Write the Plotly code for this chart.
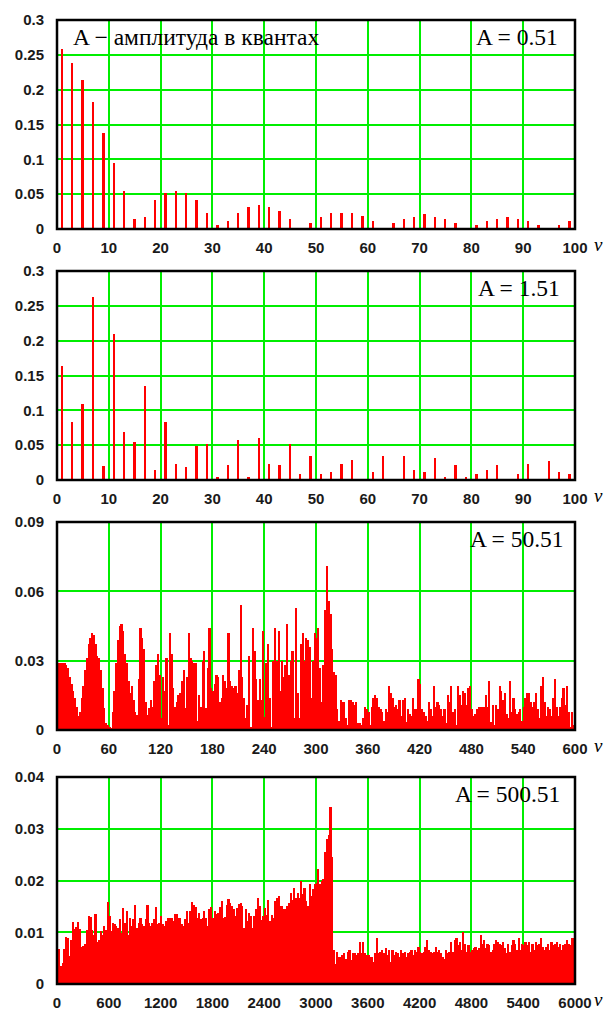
import plotly.graph_objects as go

# ---------------- data ----------------
nu_100 = list(range(1, 100, 2))          # odd harmonics 1..99
amp_051 = [0.259, 0.239, 0.214, 0.182, 0.138, 0.095, 0.055, 0.015, 0.017, 0.041,
           0.052, 0.055, 0.052, 0.041, 0.023, 0.006, 0.012, 0.023, 0.032, 0.035,
           0.032, 0.026, 0.014, 0.0, 0.009, 0.017, 0.023, 0.023, 0.023, 0.018,
           0.012, 0.0, 0.009, 0.015, 0.017, 0.021, 0.017, 0.014, 0.009, 0.0,
           0.006, 0.012, 0.014, 0.017, 0.014, 0.012, 0.006, 0.0, 0.006, 0.012]
amp_151 = [0.163, 0.083, 0.109, 0.263, 0.020, 0.210, 0.069, 0.055, 0.135, 0.015,
           0.083, 0.023, 0.018, 0.049, 0.052, 0.005, 0.021, 0.057, 0.005, 0.060,
           0.023, 0.021, 0.052, 0.008, 0.035, 0.008, 0.012, 0.023, 0.029, 0.0,
           0.012, 0.035, 0.0, 0.035, 0.015, 0.012, 0.032, 0.005, 0.021, 0.005,
           0.009, 0.015, 0.021, 0.0, 0.009, 0.023, 0.0, 0.027, 0.012, 0.009]

nu_600 = list(range(1, 600, 2))          # odd harmonics 1..599
amp_5051 = [
    0.029, 0.029, 0.029, 0.029, 0.029, 0.028, 0.027, 0.023, 0.020, 0.017,
    0.014, 0.010, 0.006, 0.008, 0.014, 0.019, 0.026, 0.031, 0.037, 0.040,
    0.042, 0.041, 0.037, 0.032, 0.031, 0.026, 0.018, 0.0095, 0.003, 0.002,
    0.0015, 0.001, 0.008, 0.017, 0.029, 0.039, 0.045, 0.046, 0.043, 0.033,
    0.029, 0.021, 0.016, 0.019, 0.013, 0.008, 0.0066, 0.022, 0.044, 0.040,
    0.035, 0.012, 0.0066, 0.0095, 0.013, 0.010, 0.021, 0.028, 0.033, 0.024,
    0.005, 0.023, 0.017, 0.031, 0.002, 0.042, 0.033, 0.018, 0.010, 0.012,
    0.015, 0.016, 0.021, 0.026, 0.0095, 0.023, 0.042, 0.031, 0.030, 0.029,
    0.029, 0.004, 0.015, 0.010, 0.030, 0.034, 0.0095, 0.027, 0.044, 0.018,
    0.017, 0.020, 0.024, 0.023, 0.012, 0.014, 0.024, 0.021, 0.018, 0.042,
    0.021, 0.019, 0.018, 0.019, 0.016, 0.026, 0.054, 0.023, 0.014, 0.005,
    0.011, 0.032, 0.0015, 0.044, 0.034, 0.022, 0.013, 0.022, 0.013, 0.043,
    0.0057, 0.029, 0.037, 0.014, 0.0015, 0.030, 0.044, 0.030, 0.043, 0.017,
    0.030, 0.023, 0.028, 0.046, 0.024, 0.030, 0.034, 0.005, 0.053, 0.016,
    0.005, 0.037, 0.042, 0.030, 0.040, 0.039, 0.036, 0.014, 0.030, 0.042,
    0.040, 0.044, 0.027, 0.012, 0.028, 0.052, 0.071, 0.056, 0.050, 0.035,
    0.025, 0.024, 0.009, 0.004, 0.013, 0.012, 0.012, 0.005, 0.002, 0.013,
    0.013, 0.012, 0.011, 0.012, 0.003, 0.003, 0.002, 0.005, 0.010, 0.009,
    0.008, 0.002, 0.010, 0.014, 0.015, 0.014, 0.010, 0.009, 0.008, 0.004,
    0.009, 0.008, 0.019, 0.016, 0.014, 0.010, 0.011, 0.009, 0.013, 0.006,
    0.013, 0.014, 0.0036, 0.009, 0.007, 0.006, 0.014, 0.009, 0.009, 0.022,
    0.020, 0.009, 0.008, 0.006, 0.004, 0.012, 0.009, 0.006, 0.019, 0.010,
    0.012, 0.011, 0.009, 0.006, 0.009, 0.003, 0.015, 0.012, 0.019, 0.008,
    0.009, 0.002, 0.019, 0.015, 0.011, 0.017, 0.016, 0.011, 0.018, 0.019,
    0.009, 0.006, 0.007, 0.009, 0.010, 0.010, 0.010, 0.010, 0.015, 0.010,
    0.021, 0.0036, 0.011, 0.002, 0.011, 0.009, 0.019, 0.017, 0.013, 0.016,
    0.007, 0.005, 0.021, 0.008, 0.014, 0.009, 0.007, 0.008, 0.009, 0.004,
    0.010, 0.014, 0.016, 0.016, 0.012, 0.010, 0.012, 0.016, 0.009, 0.005,
    0.019, 0.023, 0.012, 0.006, 0.010, 0.009, 0.006, 0.014, 0.022, 0.010,
    0.006, 0.010, 0.014, 0.018, 0.011, 0.019, 0.008, 0.0015, 0.008, 0.002]

nu_6000 = list(range(10, 6000, 20))      # 20-wide bins 0..6000
amp_50051 = [
    0.0068, 0.0068, 0.0035, 0.0040, 0.0068, 0.0090, 0.0088, 0.0055, 0.0085, 0.0120,
    0.0107, 0.0110, 0.0120, 0.0107, 0.0071, 0.0073, 0.0078, 0.0105, 0.0132, 0.0130,
    0.0105, 0.0095, 0.0135, 0.0082, 0.0085, 0.0102, 0.0095, 0.0112, 0.0105, 0.0158,
    0.0132, 0.0103, 0.0118, 0.0115, 0.0112, 0.0108, 0.0126, 0.0098, 0.0147, 0.0118,
    0.0142, 0.0095, 0.0128, 0.0112, 0.0125, 0.0152, 0.0108, 0.0117, 0.0128, 0.0115,
    0.0112, 0.0125, 0.0152, 0.0118, 0.0112, 0.0118, 0.0125, 0.0148, 0.0115, 0.0118,
    0.0132, 0.0115, 0.0112, 0.0122, 0.0128, 0.0127, 0.0128, 0.0122, 0.0135, 0.0135,
    0.0128, 0.0128, 0.0115, 0.0112, 0.0125, 0.0142, 0.0118, 0.0142, 0.0158, 0.0152,
    0.0148, 0.0128, 0.0138, 0.0125, 0.0128, 0.0142, 0.0128, 0.0112, 0.0145, 0.0148,
    0.0128, 0.0142, 0.0135, 0.0138, 0.0148, 0.0161, 0.0128, 0.0130, 0.0152, 0.0165,
    0.0157, 0.0150, 0.0144, 0.0131, 0.0147, 0.0154, 0.0157, 0.0150, 0.0108, 0.0144,
    0.0121, 0.0137, 0.0131, 0.0108, 0.0131, 0.0144, 0.0167, 0.0150, 0.0124, 0.0131,
    0.0147, 0.0134, 0.0163, 0.0121, 0.0134, 0.0127, 0.0160, 0.0167, 0.0170, 0.0150,
    0.0150, 0.0144, 0.0144, 0.0150, 0.0157, 0.0176, 0.0163, 0.0186, 0.0167, 0.0176,
    0.0167, 0.0199, 0.0173, 0.0186, 0.0160, 0.0150, 0.0193, 0.0170, 0.0183, 0.0193,
    0.0196, 0.0222, 0.0193, 0.0199, 0.0203, 0.0255, 0.0281, 0.0288, 0.0343, 0.0245,
    0.0065, 0.0039, 0.0062, 0.0052, 0.0052, 0.0056, 0.0059, 0.0049, 0.0062, 0.0065,
    0.0046, 0.0059, 0.0059, 0.0056, 0.0059, 0.0082, 0.0059, 0.0082, 0.0059, 0.0056,
    0.0056, 0.0052, 0.0052, 0.0042, 0.0059, 0.0088, 0.0059, 0.0062, 0.0065, 0.0059,
    0.0069, 0.0056, 0.0065, 0.0042, 0.0065, 0.0056, 0.0062, 0.0059, 0.0052, 0.0065,
    0.0059, 0.0062, 0.0052, 0.0059, 0.0062, 0.0065, 0.0056, 0.0065, 0.0062, 0.0072,
    0.0062, 0.0059, 0.0062, 0.0072, 0.0085, 0.0065, 0.0062, 0.0059, 0.0062, 0.0072,
    0.0062, 0.0065, 0.0059, 0.0052, 0.0049, 0.0065, 0.0059, 0.0062, 0.0082, 0.0062,
    0.0085, 0.0088, 0.0075, 0.0082, 0.0065, 0.0101, 0.0078, 0.0062, 0.0075, 0.0062,
    0.0065, 0.0069, 0.0072, 0.0065, 0.0069, 0.0095, 0.0078, 0.0085, 0.0069, 0.0078,
    0.0075, 0.0062, 0.0065, 0.0078, 0.0085, 0.0082, 0.0078, 0.0075, 0.0082, 0.0069,
    0.0059, 0.0078, 0.0062, 0.0075, 0.0085, 0.0078, 0.0065, 0.0088, 0.0065, 0.0078,
    0.0075, 0.0082, 0.0075, 0.0082, 0.0062, 0.0078, 0.0065, 0.0082, 0.0075, 0.0078,
    0.0088, 0.0072, 0.0065, 0.0072, 0.0078, 0.0065, 0.0082, 0.0075, 0.0078, 0.0082,
    0.0072, 0.0078, 0.0065, 0.0075, 0.0078, 0.0085, 0.0078, 0.0075, 0.0088, 0.0088]

labels_A = ["A = 0.51", "A = 1.51", "A = 50.51", "A = 500.51"]
title_note = "A \u2212 амплитуда в квантах"

x_ticks_100 = list(range(0, 101, 10))
x_ticks_600 = list(range(0, 601, 60))
x_ticks_6000 = list(range(0, 6001, 600))
y_ticks_03 = [0, 0.05, 0.1, 0.15, 0.2, 0.25, 0.3]
y_ticks_009 = [0, 0.03, 0.06, 0.09]
y_ticks_004 = [0, 0.01, 0.02, 0.03, 0.04]

# ---------------- figure ----------------
W, H = 610, 1012
ML, MR, MT, MB = 57, 35, 20, 28
ph = H - MT - MB


def dom(top_px, bot_px):
    lo = max(0.0, (H - MB - bot_px) / ph)
    hi = min(1.0, (H - MB - top_px) / ph)
    return [lo, hi]


domains = [dom(20, 229), dom(271, 480), dom(522, 730), dom(777, 984)]

RED = "#ff0000"
GREEN = "#00ee00"
tick_font = dict(family="Liberation Sans, Arial, sans-serif", size=15, color="#1a1a1a",
                 weight="bold")
serif = "Liberation Serif, Times New Roman, serif"

fig = go.Figure()
fig.add_trace(go.Bar(x=nu_100, y=amp_051, width=0.36, marker=dict(color=RED, line=dict(width=0)),
                     xaxis="x", yaxis="y"))
fig.add_trace(go.Bar(x=nu_100, y=amp_151, width=0.36, marker=dict(color=RED, line=dict(width=0)),
                     xaxis="x2", yaxis="y2"))
fig.add_trace(go.Bar(x=nu_600, y=amp_5051, width=2.0, marker=dict(color=RED, line=dict(width=0)),
                     xaxis="x3", yaxis="y3"))
fig.add_trace(go.Bar(x=nu_6000, y=amp_50051, width=20, marker=dict(color=RED, line=dict(width=0)),
                     xaxis="x4", yaxis="y4"))

xranges = [[0, 100], [0, 100], [0, 600], [0, 6000]]
xticks = [x_ticks_100, x_ticks_100, x_ticks_600, x_ticks_6000]
yranges = [[0, 0.3], [0, 0.3], [0, 0.09], [0, 0.04]]
yticks = [y_ticks_03, y_ticks_03, y_ticks_009, y_ticks_004]

layout = dict(width=W, height=H, margin=dict(l=ML, r=MR, t=MT, b=MB, autoexpand=False),
              paper_bgcolor="white", plot_bgcolor="white", showlegend=False,
              bargap=0)
for i in range(4):
    s = "" if i == 0 else str(i + 1)
    layout["xaxis" + s] = dict(
        domain=[0, 1], anchor="y" + s, range=xranges[i], tickvals=xticks[i],
        ticktext=[str(v) for v in xticks[i]], automargin=False,
        showgrid=True, gridcolor=GREEN, gridwidth=2, zeroline=False,
        showline=False, ticks="outside", ticklen=5, tickcolor="rgba(0,0,0,0)",
        tickfont=tick_font)
    layout["yaxis" + s] = dict(
        domain=domains[i], anchor="x" + s, range=yranges[i], tickvals=yticks[i],
        ticktext=[("%g" % v) for v in yticks[i]], automargin=False,
        showgrid=True, gridcolor=GREEN, gridwidth=2, zeroline=False,
        showline=False, ticks="outside", ticklen=9, tickcolor="rgba(0,0,0,0)",
        tickfont=tick_font)
fig.update_layout(**layout)

shapes = []
ann = []
ann.append(dict(text=title_note, xref="x domain", yref="y domain", x=0.027, y=0.99,
                xanchor="left", yanchor="top", showarrow=False,
                font=dict(family=serif, size=23.5, color="black")))
ann_x = [0.972, 0.975, 0.983, 0.975]
for i in range(4):
    s = "" if i == 0 else str(i + 1)
    # black frame of each panel
    shapes.append(dict(type="rect", xref="x" + s + " domain", yref="y" + s + " domain",
                       x0=0, x1=1, y0=0, y1=1, line=dict(color="black", width=2.5),
                       layer="above"))
    ann.append(dict(text=labels_A[i], xref="x" + s + " domain", yref="y" + s + " domain",
                    x=ann_x[i], y=0.99, xanchor="right", yanchor="top", showarrow=False,
                    font=dict(family=serif, size=23.5, color="black")))
    ann.append(dict(text="<i>\u03bd</i>", xref="x" + s + " domain", yref="y" + s + " domain",
                    x=1.0, y=0, xanchor="left", yanchor="top", xshift=17, yshift=-3,
                    showarrow=False, font=dict(family=serif, size=19, color="black")))
fig.update_layout(annotations=ann, shapes=shapes)

fig.write_html("out.html", config={"displayModeBar": False},
               post_script="document.body.style.margin='0px';")
